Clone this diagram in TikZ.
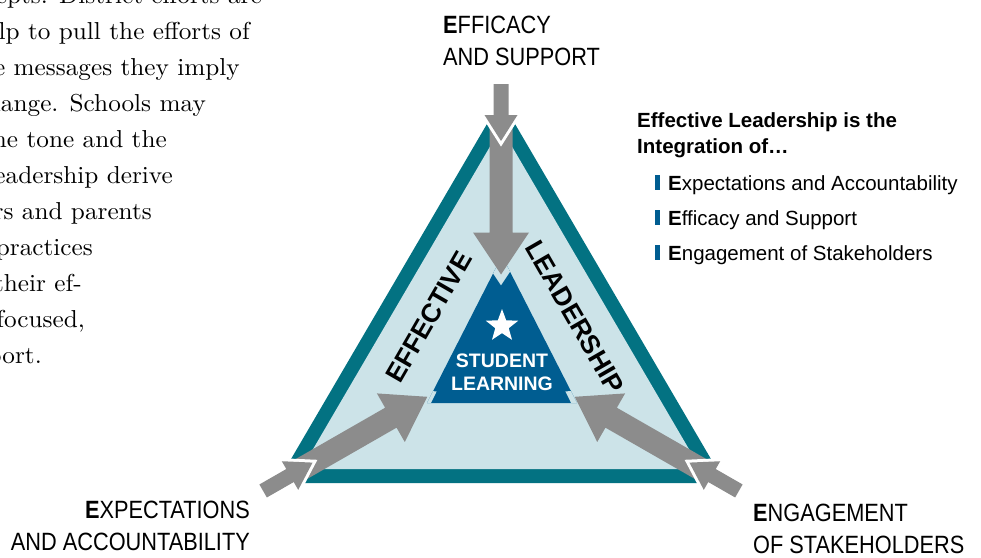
\documentclass[tikz,border=0pt]{standalone}
\usepackage{fontspec}
\newfontfamily\labelfont[FakeStretch=0.87]{Liberation Sans}
\newfontfamily\legendfont{Liberation Sans}
\newfontfamily\bodyfont[FakeStretch=1.03]{lmroman10-regular.otf}
\usepackage{xcolor}
\usepackage{tikz}
\usetikzlibrary{calc,shapes.geometric}

\definecolor{rimteal}{RGB}{3,114,130}
\definecolor{paleblue}{RGB}{204,227,232}
\definecolor{coreblue}{RGB}{0,93,145}
\definecolor{arrowgray}{RGB}{140,140,140}

% #1 style, #2 tail, #3 tip, #4 half shaft, #5 half head, #6 head length
\newcommand{\fatarrow}[6][]{%
  \coordinate (hb) at ($(#3)!#6!(#2)$);
  \path[#1] ($(#2)!#4!90:(#3)$) -- ($(hb)!#4!-90:(#2)$)
    -- ($(hb)!#5!-90:(#2)$) -- (#3)
    -- ($(hb)!#5!90:(#2)$) -- ($(hb)!#4!90:(#2)$)
    -- ($(#2)!#4!-90:(#3)$) -- cycle;
}

\begin{document}
\begin{tikzpicture}[x=1pt, y=-1pt,
    capword/.style={font=\labelfont\fontsize{25}{30}\selectfont, inner sep=0},
    sideword/.style={font=\legendfont\bfseries\fontsize{26.5}{32}\selectfont, inner sep=0},
    corelabel/.style={font=\legendfont\bfseries\fontsize{19.5}{23}\selectfont, text=white, inner sep=0},
    legendhead/.style={font=\legendfont\bfseries\fontsize{20.5}{26}\selectfont, inner sep=0, anchor=base west},
    legenditem/.style={font=\legendfont\fontsize{20.5}{26}\selectfont, inner sep=0, anchor=base west},
    legendbar/.style={fill=coreblue, minimum width=5pt, minimum height=15pt, inner sep=0},
    bodyline/.style={font=\bodyfont\fontsize{24.5}{36}\selectfont, inner sep=0, anchor=base east},
    bigarrow/.style={fill=arrowgray},
    smallarrow/.style={fill=arrowgray, preaction={draw=white, line width=6pt, line join=miter}},
    gapline/.style={draw=paleblue, line width=12pt, line join=miter}
]
\useasboundingbox (0,0) rectangle (981,557);

% Body text (cut at the page edge)
\node[bodyline] (body1) at (262,3) {cepts. District efforts are};
\node[bodyline] (body2) at (250,39) {elp to pull the efforts of};
\node[bodyline] (body3) at (240,75) {he messages they imply};
\node[bodyline] (body4) at (206,111) {hange. Schools may};
\node[bodyline] (body5) at (167,147) {he tone and the};
\node[bodyline] (body6) at (173,183) {eadership derive};
\node[bodyline] (body7) at (152,219) {ers and parents};
\node[bodyline] (body8) at (93,255) {practices};
\node[bodyline] (body9) at (82,291) {their ef-};
\node[bodyline] (body10) at (85,327) {focused,};
\node[bodyline] (body11) at (42,363) {port.};

% Frame
\coordinate (topc) at (501,100);
\coordinate (leftc) at (277,483);
\coordinate (rightc) at (725,483);
\coordinate (mid) at (501,354.5);
\fill[rimteal] (topc) -- (leftc) -- (rightc) -- cycle;
\fill[paleblue] ($(mid)!0.891!(topc)$) -- ($(mid)!0.891!(leftc)$) -- ($(mid)!0.891!(rightc)$) -- cycle;

% Core triangle
\coordinate (k1) at (502,256);
\coordinate (k2) at (427,403);
\coordinate (k3) at (577,403);
\fill[coreblue] (k1) -- (k2) -- (k3) -- cycle;

% Arrow ends
\coordinate (toptail) at ($(topc)!20pt!(mid)$);
\coordinate (toptip) at ($(mid)!80pt!(topc)$);
\coordinate (lefttail) at ($(leftc)!20pt!(mid)$);
\coordinate (lefttip) at ($(mid)!85pt!(leftc)$);
\coordinate (righttail) at ($(rightc)!20pt!(mid)$);
\coordinate (righttip) at ($(mid)!85pt!(rightc)$);
\coordinate (topout) at ($(topc)!-16pt!(mid)$);
\coordinate (topin) at ($(topc)!41pt!(mid)$);
\coordinate (leftout) at ($(leftc)!-16pt!(mid)$);
\coordinate (leftin) at ($(leftc)!41pt!(mid)$);
\coordinate (rightout) at ($(rightc)!-16pt!(mid)$);
\coordinate (rightin) at ($(rightc)!41pt!(mid)$);

% Gaps round the heads
\begin{scope}
  \clip (k1) -- (k2) -- (k3) -- cycle;
  \fatarrow[gapline]{toptail}{toptip}{11.5pt}{28pt}{42pt}
  \fatarrow[gapline]{lefttail}{lefttip}{11.5pt}{28pt}{42pt}
  \fatarrow[gapline]{righttail}{righttip}{11.5pt}{28pt}{42pt}
\end{scope}

% Arrows
\fatarrow[bigarrow]{toptail}{toptip}{11.5pt}{28pt}{42pt}
\fatarrow[bigarrow]{lefttail}{lefttip}{11.5pt}{28pt}{42pt}
\fatarrow[bigarrow]{righttail}{righttip}{11.5pt}{28pt}{42pt}
\fatarrow[smallarrow]{topout}{topin}{7.5pt}{16.5pt}{26pt}
\fatarrow[smallarrow]{leftout}{leftin}{7.5pt}{16.5pt}{26pt}
\fatarrow[smallarrow]{rightout}{rightin}{7.5pt}{16.5pt}{26pt}

% Core
\node[star, star points=5, star point ratio=2.4, fill=white, minimum size=34pt, inner sep=0] (star) at (502,326) {};
\node[corelabel, anchor=base] (student) at (502,367) {STUDENT};
\node[corelabel, anchor=base] (learning) at (502,390) {LEARNING};
\node[sideword, rotate=60] (effective) at (429,317) {EFFECTIVE};
\node[sideword, rotate=-60] (leadership) at (575,317) {LEADERSHIP};

% Corner labels
\node[capword, anchor=base west] (efficacy) at (443,33) {\textbf{E}FFICACY};
\node[capword, anchor=base west] (support) at (443,65) {AND SUPPORT};
\node[capword, anchor=base east] (expect) at (250,518) {\textbf{E}XPECTATIONS};
\node[capword, anchor=base east] (account) at (250,550) {AND ACCOUNTABILITY};
\node[capword, anchor=base west] (engage) at (753,521) {\textbf{E}NGAGEMENT};
\node[capword, anchor=base west] (stake) at (753,553) {OF STAKEHOLDERS};

% Legend
\node[legendhead] (head1) at (637,127) {Effective Leadership is the};
\node[legendhead] (head2) at (637,153) {Integration of…};
\node[legendbar] (bar1) at (657.5,182.5) {};
\node[legenditem] (item1) at (668,190) {\textbf{E}xpectations and Accountability};
\node[legendbar] (bar2) at (657.5,217.5) {};
\node[legenditem] (item2) at (668,225) {\textbf{E}fficacy and Support};
\node[legendbar] (bar3) at (657.5,252.5) {};
\node[legenditem] (item3) at (668,260) {\textbf{E}ngagement of Stakeholders};

\end{tikzpicture}
\end{document}
